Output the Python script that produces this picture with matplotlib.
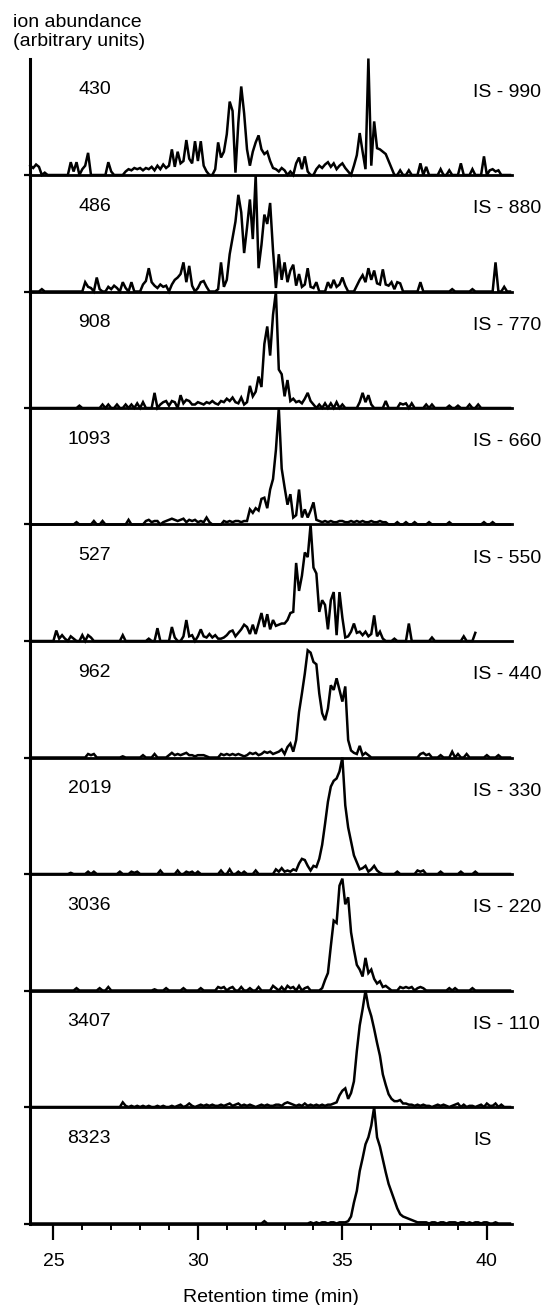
import numpy as np
import matplotlib.pyplot as plt

plt.rcParams['font.family'] = ['Liberation Sans', 'DejaVu Sans']

t_start = 24.2
t_step = 0.1

left_labels = ['430', '486', '908', '1093', '527', '962', '2019', '3036', '3407', '8323']
right_labels = ['IS - 990', 'IS - 880', 'IS - 770', 'IS - 660', 'IS - 550',
                'IS - 440', 'IS - 330', 'IS - 220', 'IS - 110', 'IS']

# relative ion abundance, % of each panel's full scale
is_990 = [8, 6, 9, 7, 0, 2, 0, 0, 0, 0,
          0, 0, 0, 0, 11, 3, 11, 0, 5, 8,
          19, 0, 0, 0, 0, 0, 0, 11, 3, 0,
          0, 0, 0, 3, 5, 4, 6, 5, 6, 4,
          6, 5, 7, 4, 8, 5, 9, 6, 8, 22,
          7, 20, 10, 12, 30, 14, 10, 29, 12, 29,
          8, 3, 0, 0, 5, 28, 15, 20, 35, 63,
          55, 2, 45, 76, 53, 22, 8, 20, 28, 34,
          22, 18, 20, 12, 6, 5, 3, 6, 4, 0,
          3, 0, 10, 15, 5, 16, 3, 0, 0, 5,
          8, 6, 9, 11, 7, 10, 5, 8, 10, 6,
          3, 0, 8, 17, 36, 20, 5, 100, 8, 46,
          23, 22, 20, 18, 12, 6, 0, 0, 4, 0,
          0, 4, 0, 0, 0, 10, 0, 7, 0, 0,
          0, 0, 5, 0, 0, 4, 0, 0, 0, 10,
          0, 0, 0, 5, 0, 0, 0, 16, 0, 4,
          5, 3, 4, 0, 0, 0, 0]

is_880 = [0, 0, 0, 0, 2, 0, 0, 0, 0, 0,
          0, 0, 0, 0, 0, 0, 0, 0, 0, 8,
          4, 3, 0, 12, 2, 0, 0, 4, 2, 5,
          3, 0, 8, 3, 0, 8, 0, 0, 0, 6,
          9, 20, 8, 5, 3, 6, 4, 5, 0, 6,
          10, 12, 15, 25, 8, 22, 5, 0, 3, 8,
          9, 4, 0, 0, 0, 2, 25, 4, 10, 32,
          46, 60, 83, 68, 33, 55, 79, 45, 100, 20,
          40, 66, 58, 76, 35, 3, 32, 10, 25, 8,
          18, 23, 5, 15, 4, 6, 20, 4, 3, 8,
          0, 0, 0, 8, 3, 10, 4, 6, 12, 5,
          0, 0, 0, 5, 10, 14, 8, 20, 10, 18,
          7, 6, 19, 6, 5, 8, 2, 8, 7, 0,
          0, 0, 0, 0, 0, 8, 0, 0, 0, 0,
          0, 0, 0, 0, 0, 0, 2, 0, 0, 0,
          0, 0, 0, 2, 0, 0, 0, 0, 0, 0,
          0, 25, 0, 0, 4, 0, 0]

is_770 = [0, 0, 0, 0, 0, 0, 0, 0, 0, 0,
          0, 0, 0, 0, 0, 0, 0, 2, 0, 0,
          0, 0, 0, 0, 0, 3, 0, 3, 0, 0,
          3, 0, 0, 3, 0, 3, 0, 4, 0, 5,
          0, 0, 0, 13, 0, 3, 5, 6, 2, 6,
          5, 0, 11, 4, 7, 6, 3, 3, 5, 4,
          3, 5, 4, 6, 4, 3, 6, 5, 8, 6,
          9, 5, 4, 9, 3, 5, 19, 10, 14, 27,
          18, 55, 70, 45, 80, 100, 33, 29, 10, 24,
          6, 8, 5, 6, 4, 8, 13, 6, 3, 0,
          3, 0, 4, 0, 4, 0, 5, 0, 3, 0,
          0, 0, 0, 0, 5, 13, 5, 11, 3, 0,
          0, 0, 0, 6, 0, 0, 0, 0, 4, 3,
          4, 0, 4, 0, 0, 0, 0, 3, 0, 3,
          0, 0, 0, 0, 0, 2, 0, 0, 2, 0,
          0, 0, 3, 0, 0, 3, 0, 0, 0, 0,
          0, 0, 0, 0, 0, 0, 0]

is_660 = [0, 0, 0, 0, 0, 0, 0, 0, 0, 0,
          0, 0, 0, 0, 0, 0, 2, 0, 0, 0,
          0, 0, 3, 0, 0, 3, 0, 0, 0, 0,
          0, 0, 0, 0, 4, 0, 0, 0, 0, 0,
          3, 4, 2, 3, 3, 0, 2, 3, 4, 5,
          4, 3, 4, 5, 2, 4, 3, 4, 2, 3,
          2, 6, 2, 0, 0, 0, 0, 3, 2, 3,
          2, 3, 3, 2, 3, 3, 13, 10, 14, 12,
          22, 23, 14, 30, 39, 64, 100, 48, 32, 17,
          26, 6, 8, 30, 6, 13, 6, 12, 19, 4,
          3, 2, 3, 2, 3, 2, 2, 3, 3, 2,
          2, 3, 2, 3, 2, 3, 2, 2, 3, 2,
          2, 3, 2, 2, 0, 0, 0, 2, 0, 0,
          2, 0, 0, 2, 0, 0, 0, 0, 2, 0,
          0, 0, 0, 0, 0, 2, 0, 0, 0, 0,
          0, 0, 0, 0, 0, 0, 0, 2, 0, 0,
          2, 0, 0, 0, 0, 0, 0]

is_550 = [0, 0, 0, 0, 0, 0, 0, 0, 0, 9,
          2, 5, 2, 0, 4, 2, 0, 0, 5, 0,
          5, 3, 0, 0, 0, 0, 0, 0, 0, 0,
          0, 0, 5, 0, 0, 0, 0, 0, 0, 0,
          0, 2, 0, 0, 11, 0, 0, 0, 0, 12,
          3, 0, 0, 4, 18, 4, 5, 0, 4, 10,
          4, 3, 6, 3, 5, 2, 2, 3, 5, 8,
          9, 4, 7, 10, 14, 12, 6, 14, 6, 15,
          24, 12, 23, 10, 18, 13, 14, 15, 15, 18,
          24, 25, 67, 43, 56, 76, 72, 100, 63, 58,
          25, 35, 31, 10, 35, 42, 5, 42, 20, 3,
          4, 8, 15, 7, 8, 5, 8, 4, 6, 22,
          4, 8, 2, 0, 0, 0, 2, 0, 0, 0,
          0, 15, 0, 0, 0, 0, 0, 0, 0, 3,
          0, 0, 0, 0, 0, 0, 0, 0, 0, 0,
          4, 0, 0, 0, 7, None, None, None, None, None,
          None, None, None, None, None, None, None]

is_440 = [0, 0, 0, 0, 0, 0, 0, 0, 0, 0,
          0, 0, 0, 0, 0, 0, 0, 0, 0, 0,
          3, 2, 3, 0, 0, 0, 0, 0, 0, 0,
          0, 0, 1, 0, 0, 0, 0, 0, 0, 2,
          0, 0, 0, 3, 0, 0, 0, 0, 2, 4,
          2, 3, 2, 3, 4, 2, 2, 1, 2, 2,
          2, 1, 0, 0, 0, 0, 3, 2, 3, 2,
          3, 2, 3, 2, 1, 2, 4, 3, 4, 2,
          3, 5, 4, 5, 3, 4, 5, 7, 3, 9,
          12, 5, 15, 39, 55, 72, 92, 90, 82, 80,
          55, 38, 32, 42, 62, 58, 68, 58, 48, 61,
          15, 6, 4, 3, 10, 2, 4, 2, 0, 0,
          0, 0, 0, 0, 0, 0, 0, 0, 0, 0,
          0, 0, 0, 0, 0, 3, 4, 2, 3, 0,
          0, 0, 2, 0, 0, 0, 5, 0, 3, 0,
          0, 3, 0, 0, 0, 0, 0, 0, 2, 0,
          0, 0, 2, 0, 0, 0, 0]

is_330 = [0, 0, 0, 0, 0, 0, 0, 0, 0, 0,
          0, 0, 0, 0, 1, 0, 0, 0, 0, 0,
          2, 0, 2, 0, 0, 0, 0, 0, 0, 0,
          0, 2, 0, 0, 0, 2, 1, 2, 0, 0,
          0, 0, 0, 0, 0, 3, 0, 0, 0, 0,
          0, 3, 0, 0, 2, 1, 2, 0, 2, 0,
          0, 0, 0, 0, 0, 0, 3, 0, 0, 4,
          0, 0, 2, 0, 2, 0, 0, 0, 3, 0,
          0, 0, 0, 0, 0, 4, 2, 5, 2, 3,
          2, 4, 3, 9, 13, 12, 7, 3, 7, 6,
          13, 25, 43, 62, 75, 80, 82, 88, 100, 59,
          40, 28, 16, 10, 4, 5, 7, 2, 4, 7,
          3, 1, 0, 0, 0, 0, 0, 2, 0, 0,
          0, 0, 0, 0, 3, 2, 3, 0, 0, 0,
          0, 0, 2, 0, 0, 0, 0, 0, 0, 2,
          0, 0, 0, 0, 2, 0, 0, 0, 0, 0,
          0, 0, 0, 0, 0, 0, 0]

is_220 = [0, 0, 0, 0, 0, 0, 0, 0, 0, 0,
          0, 0, 0, 0, 0, 0, 2, 0, 0, 0,
          0, 0, 0, 0, 2, 0, 0, 3, 0, 0,
          0, 0, 0, 0, 0, 0, 0, 0, 0, 0,
          0, 0, 0, 1, 0, 0, 0, 2, 0, 0,
          0, 0, 0, 2, 0, 0, 0, 0, 0, 2,
          0, 0, 0, 0, 0, 3, 2, 3, 0, 2,
          3, 0, 0, 3, 0, 0, 2, 0, 0, 3,
          0, 0, 0, 0, 4, 2, 0, 3, 0, 4,
          2, 3, 0, 4, 0, 2, 3, 0, 0, 0,
          0, 2, 9, 15, 38, 60, 58, 90, 96, 74,
          80, 50, 35, 22, 18, 12, 28, 15, 18, 10,
          6, 8, 3, 4, 2, 0, 0, 0, 3, 2,
          3, 2, 3, 0, 2, 3, 2, 0, 0, 0,
          0, 0, 0, 0, 0, 2, 0, 2, 0, 0,
          0, 0, 0, 2, 0, 0, 0, 0, 0, 0,
          0, 0, 0, 0, 0, 0, 0]

is_110 = [0, 0, 0, 0, 0, 0, 0, 0, 0, 0,
          0, 0, 0, 0, 0, 0, 0, 0, 0, 0,
          0, 0, 0, 0, 0, 0, 0, 0, 0, 0,
          0, 0, 4, 1, 0, 1, 0, 1, 0, 1,
          0, 1, 0, 0, 1, 0, 1, 0, 0, 1,
          0, 1, 2, 0, 1, 3, 1, 0, 1, 2,
          1, 2, 1, 2, 1, 1, 2, 1, 2, 3,
          1, 2, 3, 1, 2, 1, 2, 1, 0, 1,
          2, 1, 2, 1, 1, 2, 2, 1, 3, 4,
          3, 2, 1, 2, 1, 3, 1, 2, 1, 2,
          1, 2, 1, 2, 2, 3, 4, 10, 14, 16,
          7, 12, 22, 48, 70, 84, 100, 86, 78, 67,
          55, 44, 28, 19, 11, 7, 5, 5, 6, 3,
          3, 2, 2, 1, 2, 1, 2, 1, 1, 0,
          1, 2, 1, 2, 1, 0, 1, 2, 3, 0,
          2, 0, 1, 1, 0, 1, 2, 0, 3, 1,
          1, 3, 0, 2, 0, 0, 0]

is_0 = [0, 0, 0, 0, 0, 0, 0, 0, 0, 0,
        0, 0, 0, 0, 0, 0, 0, 0, 0, 0,
        0, 0, 0, 0, 0, 0, 0, 0, 0, 0,
        0, 0, 0, 0, 0, 0, 0, 0, 0, 0,
        0, 0, 0, 0, 0, 0, 0, 0, 0, 0,
        0, 0, 0, 0, 0, 0, 0, 0, 0, 0,
        0, 0, 0, 0, 0, 0, 0, 0, 0, 0,
        0, 0, 0, 0, 0, 0, 0, 0, 0, 0,
        0, 2, 0, 0, 0, 0, 0, 0, 0, 0,
        0, 0, 0, 0, 0, 0, 0, 1, 0, 1,
        0, 1, 1, 0, 1, 1, 0, 1, 1, 1,
        2, 6, 18, 28, 45, 56, 68, 74, 84, 100,
        74, 66, 55, 44, 34, 27, 20, 13, 8, 6,
        5, 4, 3, 2, 1, 1, 1, 1, 0, 1,
        1, 0, 1, 1, 0, 1, 1, 1, 0, 1,
        1, 0, 1, 0, 1, 1, 0, 1, 1, 0,
        0, 1, 0, 0, 0, 0, 0]

traces = [is_990, is_880, is_770, is_660, is_550, is_440, is_330, is_220, is_110, is_0]

W, H = 546, 1305
fig = plt.figure(figsize=(W / 100, H / 100), dpi=100)

# panel geometry in pixels
x_left, x_right = 30, 512
panel_top = 58.5
panel_h = 116.5

for k, vals in enumerate(traces):
    y_base = panel_top + panel_h * (k + 1)
    ax = fig.add_axes([x_left / W, 1 - y_base / H, (x_right - x_left) / W, panel_h / H])
    ax.patch.set_visible(False)

    y = np.array([np.nan if v is None else v for v in vals], dtype=float)
    t = t_start + t_step * np.arange(len(y))
    ax.plot(t, y, color='black', lw=1.8, clip_on=False, solid_joinstyle='miter')

    ax.set_xlim(24.19, 40.87)
    ax.set_ylim(0, 100)
    ax.spines['top'].set_visible(False)
    ax.spines['right'].set_visible(False)
    ax.spines['left'].set_linewidth(2.2)
    ax.spines['bottom'].set_linewidth(2)
    ax.set_yticks([0])
    ax.set_yticklabels([])
    ax.tick_params(axis='y', length=4, width=1.6, direction='out')

    if k < len(traces) - 1:
        ax.set_xticks([])
    else:
        ax.set_xticks([25, 30, 35, 40])
        ax.set_xticks(np.arange(25, 41), minor=True)
        ax.tick_params(axis='x', which='major', length=11.5, width=1.6, pad=10, labelsize=14)
        ax.tick_params(axis='x', which='minor', length=4.5, width=1.4)

    ax.text(0.168, 0.695, left_labels[k], ha='right', va='baseline',
            fontsize=14, transform=ax.transAxes)
    ax.text(0.92, 0.672, right_labels[k], ha='left', va='baseline',
            fontsize=14, transform=ax.transAxes, clip_on=False)

fig.text(13 / W, 1 - 26.7 / H, 'ion abundance', ha='left', va='baseline', fontsize=14)
fig.text(13 / W, 1 - 46 / H, '(arbitrary units)', ha='left', va='baseline', fontsize=14)
fig.text(271 / W, 1 - 1298 / H, 'Retention time (min)', ha='center', va='center', fontsize=14)

fig.savefig('out.png', dpi=100)
